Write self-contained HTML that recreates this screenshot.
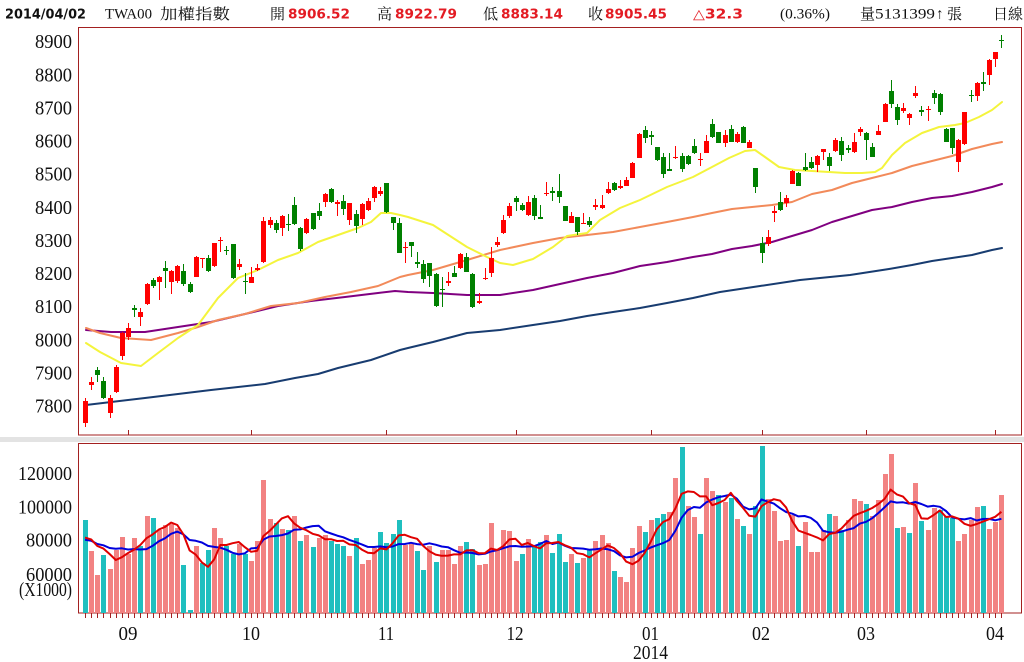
<!DOCTYPE html>
<html><head><meta charset="utf-8">
<style>
html,body{margin:0;padding:0;background:#fff;width:1024px;height:662px;overflow:hidden}
svg{display:block}
</style></head><body>
<svg id="s" width="1024" height="662" viewBox="0 0 1024 662" xmlns="http://www.w3.org/2000/svg">
<rect width="1024" height="662" fill="#fff"/>
<rect x="0" y="437" width="1024" height="5" fill="#e3e3e3"/>
<rect x="78.5" y="27.5" width="943" height="407.5" fill="#fff" stroke="#a32020" stroke-width="1"/>
<rect x="78.5" y="443.5" width="943" height="169.5" fill="#fff" stroke="#a32020" stroke-width="1"/>

<!-- header -->
<g font-size="15">
<text x="5" y="18.5" font-family="DejaVu Sans" font-weight="bold" font-size="13" fill="#111" textLength="81" lengthAdjust="spacingAndGlyphs">2014/04/02</text>
<text x="105" y="18.5" font-family="Liberation Serif, serif" fill="#111" textLength="47" lengthAdjust="spacingAndGlyphs">TWA00</text>
<text x="160" y="19" font-family="Liberation Serif, Noto Serif CJK SC, serif" fill="#111" textLength="70" lengthAdjust="spacingAndGlyphs">加權指數</text>
<text x="270" y="19" font-family="Liberation Serif, Noto Serif CJK SC, serif" fill="#111">開</text>
<text x="288" y="18.5" font-family="DejaVu Sans" font-weight="bold" font-size="13.5" fill="#e31b23" textLength="62" lengthAdjust="spacingAndGlyphs">8906.52</text>
<text x="377" y="19" font-family="Liberation Serif, Noto Serif CJK SC, serif" fill="#111">高</text>
<text x="395" y="18.5" font-family="DejaVu Sans" font-weight="bold" font-size="13.5" fill="#e31b23" textLength="62" lengthAdjust="spacingAndGlyphs">8922.79</text>
<text x="483" y="19" font-family="Liberation Serif, Noto Serif CJK SC, serif" fill="#111">低</text>
<text x="501" y="18.5" font-family="DejaVu Sans" font-weight="bold" font-size="13.5" fill="#e31b23" textLength="62" lengthAdjust="spacingAndGlyphs">8883.14</text>
<text x="588" y="19" font-family="Liberation Serif, Noto Serif CJK SC, serif" fill="#111">收</text>
<text x="605" y="18.5" font-family="DejaVu Sans" font-weight="bold" font-size="13.5" fill="#e31b23" textLength="62" lengthAdjust="spacingAndGlyphs">8905.45</text>
<text x="693" y="18.5" font-family="DejaVu Sans" font-weight="bold" font-size="13.5" fill="#e31b23" textLength="50" lengthAdjust="spacingAndGlyphs">△32.3</text>
<text x="780" y="18.5" font-family="Liberation Serif, serif" fill="#111" textLength="50" lengthAdjust="spacingAndGlyphs">(0.36%)</text>
<text x="860" y="19" font-family="Liberation Serif, Noto Serif CJK SC, serif" fill="#111">量</text>
<text x="875" y="18.5" font-family="Liberation Serif, serif" fill="#111" textLength="60" lengthAdjust="spacingAndGlyphs">5131399</text>
<text x="936" y="18.5" font-family="Liberation Serif, DejaVu Sans, serif" fill="#111">↑</text>
<text x="947" y="19" font-family="Liberation Serif, Noto Serif CJK SC, serif" fill="#111">張</text>
<text x="993" y="19" font-family="Liberation Serif, Noto Serif CJK SC, serif" fill="#111" textLength="30" lengthAdjust="spacingAndGlyphs">日線</text>
</g>

<!-- price axis labels -->
<g font-family="Liberation Serif, serif" font-size="19.5" fill="#111" text-anchor="end">
<text x="72" y="48" textLength="37" lengthAdjust="spacingAndGlyphs">8900</text>
<text x="72" y="81.4" textLength="37" lengthAdjust="spacingAndGlyphs">8800</text>
<text x="72" y="114.7" textLength="37" lengthAdjust="spacingAndGlyphs">8700</text>
<text x="72" y="147.6" textLength="37" lengthAdjust="spacingAndGlyphs">8600</text>
<text x="72" y="180.7" textLength="37" lengthAdjust="spacingAndGlyphs">8500</text>
<text x="72" y="213.9" textLength="37" lengthAdjust="spacingAndGlyphs">8400</text>
<text x="72" y="247" textLength="37" lengthAdjust="spacingAndGlyphs">8300</text>
<text x="72" y="280.1" textLength="37" lengthAdjust="spacingAndGlyphs">8200</text>
<text x="72" y="313.1" textLength="37" lengthAdjust="spacingAndGlyphs">8100</text>
<text x="72" y="346.4" textLength="37" lengthAdjust="spacingAndGlyphs">8000</text>
<text x="72" y="379.6" textLength="37" lengthAdjust="spacingAndGlyphs">7900</text>
<text x="72" y="412.7" textLength="37" lengthAdjust="spacingAndGlyphs">7800</text>
<text x="72" y="480.2" textLength="54" lengthAdjust="spacingAndGlyphs">120000</text>
<text x="72" y="513.4" textLength="54" lengthAdjust="spacingAndGlyphs">100000</text>
<text x="72" y="546.7" textLength="46" lengthAdjust="spacingAndGlyphs">80000</text>
<text x="72" y="581" textLength="46" lengthAdjust="spacingAndGlyphs">60000</text>
<text x="72" y="596" textLength="53" lengthAdjust="spacingAndGlyphs">(X1000)</text>
</g>

<!-- month labels -->
<g font-family="Liberation Serif, serif" font-size="19.5" fill="#111" text-anchor="middle">
<text x="128" y="640" textLength="19" lengthAdjust="spacingAndGlyphs">09</text>
<text x="251" y="640" textLength="18" lengthAdjust="spacingAndGlyphs">10</text>
<text x="386" y="640" textLength="16" lengthAdjust="spacingAndGlyphs">11</text>
<text x="515" y="640" textLength="17" lengthAdjust="spacingAndGlyphs">12</text>
<text x="650.5" y="640" textLength="17" lengthAdjust="spacingAndGlyphs">01</text>
<text x="650.5" y="659" textLength="35" lengthAdjust="spacingAndGlyphs">2014</text>
<text x="761" y="640" textLength="18" lengthAdjust="spacingAndGlyphs">02</text>
<text x="866" y="640" textLength="18" lengthAdjust="spacingAndGlyphs">03</text>
<text x="995" y="640" textLength="18" lengthAdjust="spacingAndGlyphs">04</text>
</g>

<g id="ticks"></g>

<!-- MA lines main -->
<g fill="none" stroke-width="2" stroke-linejoin="round" stroke-linecap="round">
<polyline stroke="#183c70" points="86,405 145,398 211,390 265,384 295,378 318,374 338,368 371,360 400,350 408,348 433,342 467,333 500,330 533,325 560,321 587,316 613,312 640,308 667,303 693,298 720,292 760,286 800,280 850,275 889,269 912,265 932,261 952,258 972,255 992,250 1002,248"/>
<polyline stroke="#800080" points="86,330 111,332 145,332 178,327 211,322 245,314 278,306 311,301 345,297 378,293 395,291 408,292 433,293 467,295 500,295 533,290 560,284 587,278 613,273 640,266 667,262 693,257 712,254 732,249 752,246 772,242 792,236 812,230 832,222 852,216 872,210 892,207 912,202 932,198 952,196 972,192 992,187 1002,184"/>
<polyline stroke="#f28a5a" points="86,328 100,333 121,338 151,340 178,333 198,327 218,320 245,314 271,306 298,303 325,297 351,292 378,286 400,277 408,275 433,270 467,260 500,250 533,243 560,238 587,235 613,232 640,227 667,222 693,217 712,213 732,209 752,207 772,205 792,202 812,194 832,190 852,183 872,178 892,173 912,166 932,161 952,156 972,149 992,144 1002,142"/>
<polyline stroke="#f4f43c" points="86,343 100,352 121,363 141,366 158,353 178,338 198,325 218,298 238,278 258,270 278,260 298,253 318,242 338,235 358,228 371,222 381,213 391,213 400,215 408,217 433,225 467,247 487,257 500,263 513,265 533,259 553,247 567,236 587,233 600,220 620,208 640,200 667,187 693,177 712,167 729,158 745,151 755,150 765,157 779,167 795,170 812,171 829,172 845,173 862,173 875,172 882,168 892,155 905,143 922,133 939,127 955,125 965,123 979,117 992,110 1002,102"/>
</g>

<g id="cdl"></g>
<g id="vol"></g>
<g id="vma" fill="none" stroke-width="2" stroke-linejoin="round"></g>
</svg>
<script>
(function(){
var NS="http://www.w3.org/2000/svg";
function el(t,a,p){var e=document.createElementNS(NS,t);for(var k in a)e.setAttribute(k,a[k]);p.appendChild(e);return e;}
function X(i){return 85+6.15*i;}
var K=[
[1,398,401,423,427],[1,377,382,385,390],[0,367,370,375,382],[0,377,381,398,399],[1,395,398,413,418],
[1,365,367,392,393],[1,332,333,356,360],[1,323,328,337,340],[0,305,308,310,317],[1,308,312,317,326],
[1,283,284,304,305],[0,278,280,286,288],[1,276,277,282,300],[0,261,268,271,288],[1,270,271,282,294],
[1,265,266,281,283],[0,264,271,284,286],[0,282,284,292,293],[1,256,257,277,277],[1,258,258,259,268],
[0,255,258,271,272],[1,243,243,266,267],[1,237,240,241,252],[0,246,250,251,255],[0,244,244,278,279],
[1,259,264,267,270],[0,273,281,282,294],[1,267,277,283,283],[1,264,268,270,271],[1,217,221,262,263],
[1,217,220,225,228],[0,220,223,230,233],[1,215,216,228,236],[0,214,224,225,231],[0,197,205,224,225],
[0,227,228,249,251],[1,218,219,233,234],[0,213,213,229,230],[0,203,211,216,220],[1,193,194,202,207],
[0,188,189,202,203],[1,200,202,204,216],[0,195,201,209,215],[1,203,203,220,225],[0,210,214,226,233],
[1,203,204,219,225],[1,198,201,210,211],[1,186,187,198,202],[1,187,191,194,196],[0,183,183,212,213],
[0,217,217,223,230],[0,218,223,253,253],[1,242,247,248,263],[0,242,242,246,257],[0,252,262,264,268],
[0,260,264,279,283],[0,263,263,276,287],[0,273,274,306,307],[0,277,289,290,307],[1,272,281,283,286],
[0,266,273,277,277],[1,253,254,268,269],[0,253,257,272,272],[0,273,274,307,308],[1,293,301,303,304],
[1,268,278,279,280],[1,247,258,273,277],[1,237,242,245,247],[1,215,220,233,234],[1,203,206,216,218],
[0,196,198,202,211],[0,203,205,210,211],[1,196,202,215,216],[0,195,198,216,220],[0,205,217,219,219],
[1,182,193,194,196],[0,187,191,193,201],[0,174,191,197,203],[0,206,206,221,221],[1,212,216,223,223],
[0,217,217,232,235],[1,213,223,224,224],[0,217,221,225,227],[1,199,205,207,210],[1,195,205,208,209],
[1,182,189,193,194],[0,182,183,190,191],[1,180,186,188,189],[1,177,180,186,186],[1,162,163,178,178],
[1,133,134,158,158],[0,126,130,138,143],[0,131,135,137,145],[0,147,147,160,161],[0,153,157,174,178],
[0,153,169,171,171],[1,146,157,158,159],[0,153,156,169,172],[0,155,156,164,165],[0,139,146,153,154],
[1,153,159,160,166],[1,135,141,153,153],[0,119,124,137,138],[0,132,132,143,143],[1,130,135,143,147],
[0,125,129,142,142],[1,132,134,142,143],[0,126,127,143,143],[1,140,142,148,148],[0,168,168,187,193],
[0,237,243,253,263],[1,230,237,244,246],[1,206,211,213,222],[0,192,202,210,211],[1,195,198,203,207],
[1,170,171,184,184],[0,172,173,186,186],[0,153,167,170,171],[0,157,162,168,169],[1,155,156,165,172],
[1,149,149,152,160],[0,153,157,166,171],[1,138,140,151,152],[0,137,141,155,161],[0,145,148,150,153],
[1,133,142,152,153],[1,127,129,132,136],[0,132,133,140,160],[0,143,147,157,157],[1,125,131,135,135],
[1,103,104,122,122],[0,80,91,104,108],[0,104,107,120,125],[1,103,108,111,113],[1,113,114,118,125],
[1,86,93,96,98],[0,106,110,112,116],[1,106,109,110,121],[0,90,93,98,104],[0,93,94,112,115],
[0,128,129,142,142],[0,128,128,148,154],[1,139,140,162,172],[1,112,112,144,145],[0,90,95,96,102],
[1,82,83,96,101],[0,72,82,84,91],[1,59,60,75,85],[1,52,52,59,67],[0,35,40,41,48]
];
var VT=[520,551,575,555,569,550,537,554,538,546,
516,518,530,525,524,528,565,610,546,563,
550,528,538,546,554,544,554,561,541,480,
519,523,529,530,516,541,535,547,538,535,
541,544,546,556,538,564,560,548,532,543,
534,520,545,544,551,570,546,562,550,550,
564,546,542,549,565,564,523,549,530,531,
561,554,539,546,542,535,553,534,562,554,
563,558,550,541,535,543,571,577,582,548,
526,532,520,518,514,512,478,447,506,517,
534,478,491,495,502,498,519,526,534,506,
446,499,511,541,540,515,546,522,552,552,
530,514,516,530,520,499,501,504,516,500,
474,454,528,527,533,483,521,530,508,510,
516,518,541,534,520,507,506,529,522,495];
var VC="tpptpppppt"+"ptppppttpt"+"tppttptppp"+"ptptptptpp"+"tttptppptt"+"ttppttptpp"+"ppttpppppp"+"ptpttptttp"+"tptppptppp"+"ptpttpptpp"+"tpptptptpt"+"tppppptppp"+"ptptppptpp"+"pptptptppt"+"ttpppptppp";
var cdl=document.getElementById("cdl"),vol=document.getElementById("vol"),tk=document.getElementById("ticks"),vma=document.getElementById("vma");
for(var i=0;i<K.length;i++){
  var c=K[i],xc=Math.round(X(i)),col=c[0]?"#ff0000":"#008000";
  el("rect",{x:xc,y:c[1],width:1,height:Math.max(1,c[4]-c[1]),fill:col},cdl);
  el("rect",{x:xc-2,y:c[2],width:5,height:Math.max(1,c[3]-c[2]),fill:col},cdl);
}
for(var i=0;i<VT.length;i++){
  var xc=Math.round(X(i));
  el("rect",{x:xc-2,y:VT[i],width:5,height:613-VT[i],fill:VC.charAt(i)=="t"?"#1fbfbf":"#f28282"},vol);
  el("rect",{x:xc,y:613,width:1,height:5,fill:"#a32020"},tk);
}
var mt=[7,27,49,70,92,110,127,148];
for(var j=0;j<mt.length;j++){el("rect",{x:Math.round(X(mt[j])),y:430,width:1,height:5,fill:"#a32020"},tk);}
var A=[542,542,542,542,542,542,542,542,542].concat(VT);
function ma(n){var pts=[];for(var i=0;i<VT.length;i++){var s=0;for(var k=0;k<n;k++)s+=A[i+9-k];pts.push(X(i).toFixed(1)+","+(s/n).toFixed(1));}return pts.join(" ");}
el("polyline",{points:ma(10),stroke:"#0000dd"},vma);
el("polyline",{points:ma(5),stroke:"#e00000"},vma);
})();
</script>
</body></html>
